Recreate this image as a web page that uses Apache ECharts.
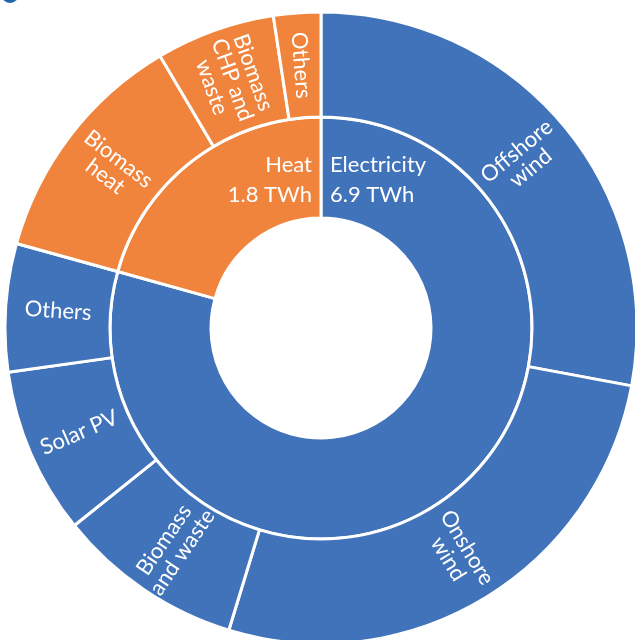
<!DOCTYPE html>
<html>
<head>
<meta charset="utf-8">
<script src="https://cdn.jsdelivr.net/npm/echarts@6/dist/echarts.min.js"></script>
<style>
html,body{margin:0;padding:0;background:#fff;}
#chart{width:635px;height:640px;}
</style>
</head>
<body>
<div id="chart"></div>
<script>
// Data (TWh)
const parents = ['Electricity', 'Heat'];
const parentTotals = ['6.9 TWh', '1.8 TWh'];
const electricityNames = ['Offshore\nwind', 'Onshore\nwind', 'Biomass\nand waste', 'Solar PV', 'Others'];
const electricityValues = [2.43, 2.33, 0.83, 0.74, 0.57];
const heatNames = ['Biomass\nheat', 'Biomass\nCHP and\nwaste', 'Others'];
const heatValues = [1.06, 0.53, 0.21];

const BLUE = '#4073b9';
const ORANGE = '#f0843c';
const FONT = 'Lato';

function kids(names, values, color) {
  return names.map((n, i) => ({ name: n, value: values[i], itemStyle: { color: color } }));
}

const data = [
  { name: parents[0], itemStyle: { color: BLUE }, children: kids(electricityNames, electricityValues, BLUE) },
  { name: parents[1], itemStyle: { color: ORANGE }, children: kids(heatNames, heatValues, ORANGE) }
];

const chart = echarts.init(document.getElementById('chart'), null, { renderer: 'canvas' });
chart.setOption({
  animation: false,
  series: [{
    type: 'sunburst',
    center: [321, 328],
    radius: [110, 316],
    startAngle: 90,
    clockwise: true,
    sort: null,
    nodeClick: false,
    emphasis: { disabled: true },
    itemStyle: { borderColor: '#ffffff', borderWidth: 3 },
    data: data,
    levels: [
      {},
      { r0: 110, r: 211, label: { show: false } },
      { r0: 211, r: 316, label: { show: true, rotate: 'radial', color: '#ffffff', fontFamily: FONT, fontSize: 22, lineHeight: 22, align: 'center' } }
    ]
  }],
  graphic: [
    { type: 'circle', z: 100, shape: { cx: 10, cy: -6, r: 9 }, style: { fill: '#1f62ad' } },
    { type: 'text', z: 100, x: 312, y: 150, style: { text: parents[1] + '\n' + parentTotals[1], fill: '#ffffff', font: '22px ' + FONT, textAlign: 'right', lineHeight: 30 } },
    { type: 'text', z: 100, x: 330, y: 150, style: { text: parents[0] + '\n' + parentTotals[0], fill: '#ffffff', font: '22px ' + FONT, textAlign: 'left', lineHeight: 30 } }
  ]
});
</script>
</body>
</html>
